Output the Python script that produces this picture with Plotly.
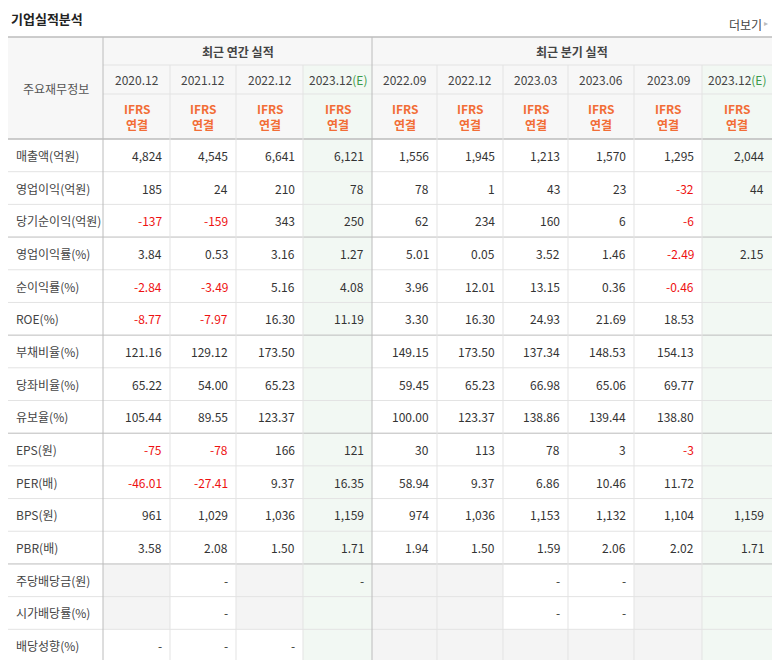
import plotly.graph_objects as go

groups = ["최근 연간 실적", "최근 분기 실적"]
periods = ["2020.12", "2021.12", "2022.12", "2023.12", "2022.09", "2022.12", "2023.03", "2023.06", "2023.09", "2023.12"]
estimate = [False, False, False, True, False, False, False, False, False, True]
row_labels = ["매출액(억원)", "영업이익(억원)", "당기순이익(억원)", "영업이익률(%)", "순이익률(%)", "ROE(%)",
              "부채비율(%)", "당좌비율(%)", "유보율(%)", "EPS(원)", "PER(배)", "BPS(원)", "PBR(배)",
              "주당배당금(원)", "시가배당률(%)", "배당성향(%)"]
values = [
    ["4,824", "4,545", "6,641", "6,121", "1,556", "1,945", "1,213", "1,570", "1,295", "2,044"],
    ["185", "24", "210", "78", "78", "1", "43", "23", "-32", "44"],
    ["-137", "-159", "343", "250", "62", "234", "160", "6", "-6", ""],
    ["3.84", "0.53", "3.16", "1.27", "5.01", "0.05", "3.52", "1.46", "-2.49", "2.15"],
    ["-2.84", "-3.49", "5.16", "4.08", "3.96", "12.01", "13.15", "0.36", "-0.46", ""],
    ["-8.77", "-7.97", "16.30", "11.19", "3.30", "16.30", "24.93", "21.69", "18.53", ""],
    ["121.16", "129.12", "173.50", "", "149.15", "173.50", "137.34", "148.53", "154.13", ""],
    ["65.22", "54.00", "65.23", "", "59.45", "65.23", "66.98", "65.06", "69.77", ""],
    ["105.44", "89.55", "123.37", "", "100.00", "123.37", "138.86", "139.44", "138.80", ""],
    ["-75", "-78", "166", "121", "30", "113", "78", "3", "-3", ""],
    ["-46.01", "-27.41", "9.37", "16.35", "58.94", "9.37", "6.86", "10.46", "11.72", ""],
    ["961", "1,029", "1,036", "1,159", "974", "1,036", "1,153", "1,132", "1,104", "1,159"],
    ["3.58", "2.08", "1.50", "1.71", "1.94", "1.50", "1.59", "2.06", "2.02", "1.71"],
    [None, "-", None, "-", None, None, "-", "-", None, None],
    [None, "-", None, None, None, None, "-", "-", None, None],
    ["-", "-", "-", None, None, None, None, None, None, None],
]
group_breaks = [3, 6, 9, 13]

W, H = 781, 668
OFF = 8  # page body margin
col_x = [8, 103, 170, 236, 303, 372, 437, 503, 568, 634, 702, 772]
top, h1, h2, h3 = 37, 65, 94, 139
rh = (662 - h3) / len(row_labels)
FONT = "Noto Sans CJK KR"
TXT = "#333333"; RED = "#ee1111"; ORANGE = "#f26d36"; GREEN = "#3a9a4a"
EBG = "#f2f8f3"; HBG = "#f7f7f7"; GREY = "#f4f4f4"; LINE = "#e3e3e3"; DLINE = "#bcbcbc"

shapes, ann = [], []
def rect(x0, y0, x1, y1, c):
    shapes.append(dict(type="rect", x0=x0, x1=x1, y0=y0, y1=y1, fillcolor=c, line_width=0, layer="below"))
def line(x0, y0, x1, y1, c, w=1):
    shapes.append(dict(type="line", x0=x0, x1=x1, y0=y0, y1=y1, line=dict(color=c, width=w)))
def text(x, y, t, color=TXT, size=12, anchor="center", bold=False):
    ann.append(dict(x=x, y=y, text=f"<b>{t}</b>" if bold else t, showarrow=False, xanchor=anchor,
                    yanchor="middle", font=dict(family=FONT, size=size, color=color)))

rect(col_x[0], top, col_x[-1], h3, HBG)
for j, e in enumerate(estimate):
    if e:
        rect(col_x[j+1], h1, col_x[j+2], 662, EBG)
for i, row in enumerate(values):
    for j, v in enumerate(row):
        y0 = h3 + i*rh
        if v is None and not estimate[j]:
            rect(col_x[j+1], y0, col_x[j+2], y0+rh, GREY)

text(col_x[0] + 1, 18, "기업실적분석", "#222", 13, "left", True)
text(col_x[-1] - 8, 24, "더보기", "#444", 12, "right")
text(col_x[-1] - 2, 22, "▸", "#bbb", 8, "right")
text((col_x[0]+col_x[1])/2, (top+h3)/2, "주요재무정보", "#555", 12)
text((col_x[1]+col_x[5])/2, (top+h1)/2, groups[0], "#444", 12, bold=True)
text((col_x[5]+col_x[-1])/2, (top+h1)/2, groups[1], "#444", 12, bold=True)
for j, p in enumerate(periods):
    cx = (col_x[j+1]+col_x[j+2])/2
    lab = p + ("<span style='color:%s'>(E)</span>" % GREEN if estimate[j] else "")
    text(cx, (h1+h2)/2, lab, "#444", 12)
    text(cx, h2 + 14, "IFRS", ORANGE, 12, bold=True)
    text(cx, h2 + 30, "연결", ORANGE, 12, bold=True)

for i, (lab, row) in enumerate(zip(row_labels, values)):
    cy = h3 + (i+0.5)*rh
    text(col_x[0] + 6, cy, lab, "#444", 12, "left")
    for j, v in enumerate(row):
        if v:
            text(col_x[j+2] - 6, cy, v, RED if v.startswith("-") and len(v) > 1 else TXT, 12, "right")

line(col_x[0], top, col_x[-1], top, DLINE, 1.5)
line(col_x[1], h1, col_x[-1], h1, LINE)
line(col_x[1], h2, col_x[-1], h2, LINE)
line(col_x[0], h3, col_x[-1], h3, DLINE, 1.5)
for i in range(1, len(row_labels)):
    y = h3 + i*rh
    line(col_x[0], y, col_x[-1], y, DLINE if i in group_breaks else LINE)
line(col_x[0], 662, col_x[-1], 662, DLINE, 1.5)
line(col_x[1], top, col_x[1], 662, DLINE)
line(col_x[5], top, col_x[5], 662, DLINE)
for k in range(2, len(col_x)-1):
    if k != 5:
        line(col_x[k], h1, col_x[k], 662, LINE)

fig = go.Figure()
fig.update_layout(width=W - 2*OFF, height=H - 2*OFF, margin=dict(l=0, r=0, t=0, b=0), paper_bgcolor="white",
                  plot_bgcolor="white", shapes=shapes, annotations=ann, showlegend=False,
                  xaxis=dict(range=[OFF, W - OFF], visible=False, fixedrange=True),
                  yaxis=dict(range=[H - OFF, OFF], visible=False, fixedrange=True))
fig.write_html("out.html", config={"displayModeBar": False})
